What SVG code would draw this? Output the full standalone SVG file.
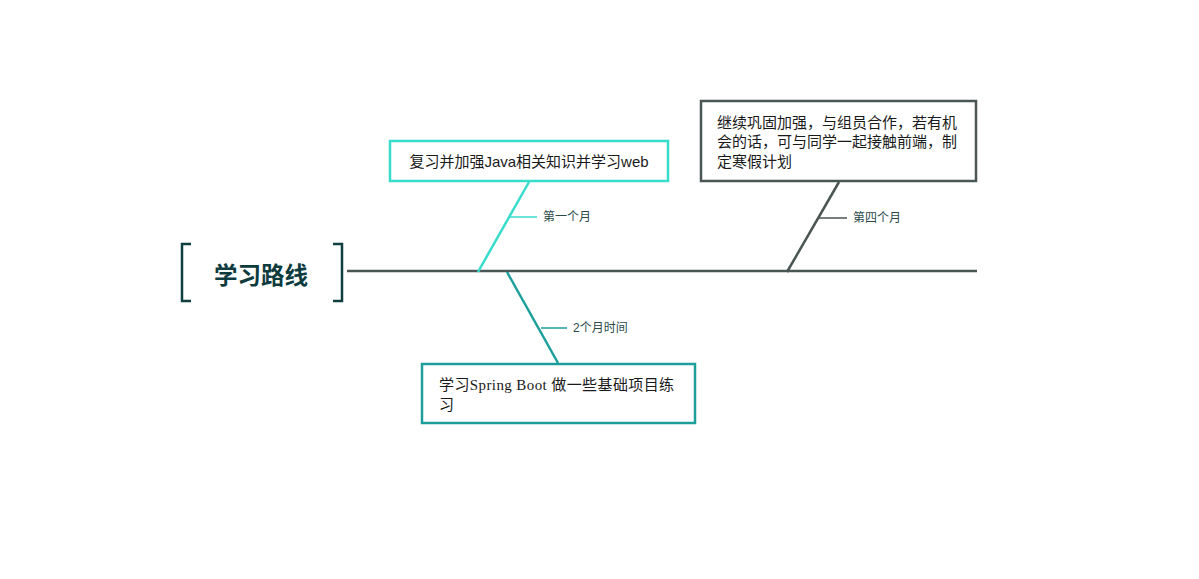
<svg xmlns="http://www.w3.org/2000/svg" width="1199" height="579" viewBox="0 0 1199 579">
<style>
.box{fill:#fff;stroke-width:2.5}
.txt{font-family:"Liberation Sans","Noto Sans CJK SC",sans-serif;font-size:15px;fill:#1a1a1a}
.serif{font-family:"Liberation Serif","Noto Sans CJK SC",serif;font-size:15px;letter-spacing:0.4px;fill:#1a1a1a}
.lbl{font-family:"Liberation Sans","Noto Sans CJK SC",sans-serif;font-size:12px;fill:#2a4a4a}
.c1{stroke:#38dccb}
.c2{stroke:#1c9f9b}
.c3{stroke:#4a5653}
</style>
<rect width="1199" height="579" fill="#fff"/>
<g id="connectors" fill="none" stroke-width="2.5">
<line x1="347" y1="271" x2="977" y2="271" class="c3"/>
<line x1="478" y1="272" x2="529" y2="182" class="c1"/>
<line x1="510" y1="217" x2="537" y2="217" class="c1" stroke-width="1.5"/>
<line x1="507" y1="272" x2="558" y2="363" class="c2"/>
<line x1="541" y1="328" x2="567" y2="328" class="c2" stroke-width="1.5"/>
<line x1="787" y1="272" x2="839" y2="182" class="c3"/>
<line x1="819" y1="218" x2="847" y2="218" class="c3" stroke-width="1.5"/>
</g>
<g id="root">
<path d="M191 244 H182 V301 H191 M333 244 H342 V301 H333" fill="none" stroke="#0f3f3f" stroke-width="2.5"/>
<text x="261" y="284" text-anchor="middle" font-family="'Noto Sans CJK SC',sans-serif" font-weight="bold" font-size="23.5" fill="#0e3b3d">学习路线</text>
</g>
<g id="node1">
<rect x="390" y="141" width="278" height="40" class="box c1"/>
<text x="529" y="167" text-anchor="middle" class="txt">复习并加强Java相关知识并学习web</text>
</g>
<g id="label1"><text x="543" y="221" class="lbl">第一个月</text></g>
<g id="node2">
<rect x="422" y="364" width="273" height="59" class="box c2"/>
<text x="439" y="390" class="serif">学习Spring Boot 做一些基础项目练</text>
<text x="439" y="410" class="serif">习</text>
</g>
<g id="label2"><text x="573" y="332" class="lbl">2个月时间</text></g>
<g id="node4">
<rect x="701" y="101" width="275" height="80" class="box c3"/>
<text x="717" y="128" class="txt">继续巩固加强，与组员合作，若有机</text>
<text x="717" y="147" class="txt">会的话，可与同学一起接触前端，制</text>
<text x="717" y="167" class="txt">定寒假计划</text>
</g>
<g id="label4"><text x="853" y="222" class="lbl">第四个月</text></g>
</svg>
